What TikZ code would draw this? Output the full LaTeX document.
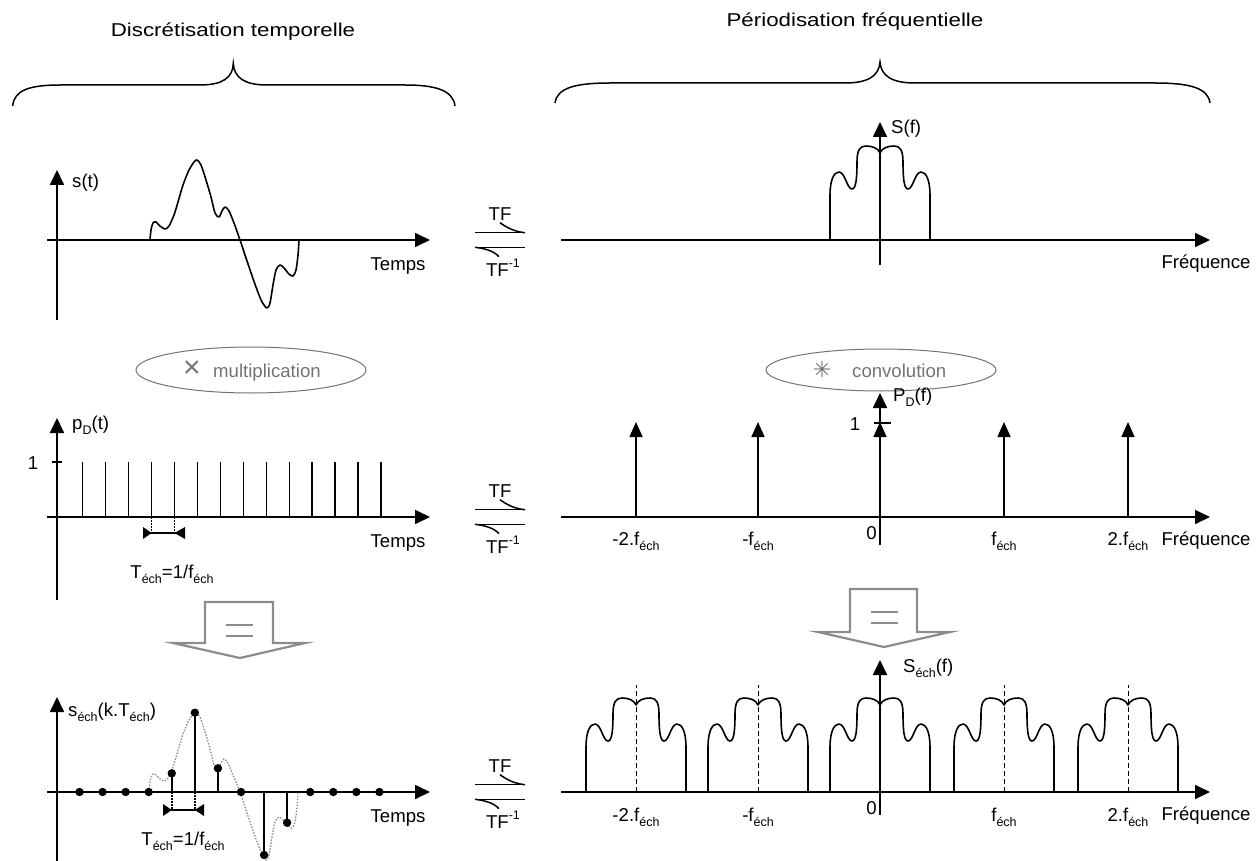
\documentclass[tikz,border=0pt]{standalone}
\usepackage{fontspec}
\setmainfont{Liberation Sans}
\newfontfamily\widefont[FakeStretch=1.2]{Liberation Sans}
\newfontfamily\symfont{DejaVu Sans}
\usetikzlibrary{arrows.meta}
\newcommand\sbs[1]{\raisebox{-0.28em}{\fontsize{12.5}{12.5}\selectfont #1}}
\newcommand\sps[1]{\raisebox{0.45em}{\fontsize{12.5}{12.5}\selectfont #1}}
\tikzset{
  ax/.style={line width=1.8pt,-{Triangle[length=15pt,width=14pt]}},
  axp/.style={line width=1.8pt},
  dirac/.style={line width=1.6pt,-{Triangle[length=15pt,width=13pt]}},
  stemline/.style={line width=1.5pt},
  sig/.style={line width=1.6pt,line join=round},
  lbl/.style={font=\fontsize{18.6}{20}\selectfont,inner sep=0pt},
  ttl/.style={font=\widefont\fontsize{18.6}{20}\selectfont,inner sep=0pt},
  graytxt/.style={font=\fontsize{18.6}{20}\selectfont,inner sep=0pt,text=black!55},
  oval/.style={draw=black!55,line width=1pt},
  eqarrow/.style={draw=black!45,line width=2.2pt,fill=white,line join=miter},
  eqbar/.style={draw=black!45,line width=2.6pt},
  tfline/.style={line width=1.5pt},
  dimdot/.style={line width=1.5pt,dash pattern=on 1.5pt off 1.5pt},
  repl/.style={line width=1pt,dash pattern=on 5pt off 3pt},
  spec/.pic={
    \draw[sig] (-50,0) -- (-50,-45) .. controls (-50,-60) and (-46,-68) .. (-41,-68)
      .. controls (-35,-68) and (-33,-51) .. (-28,-51)
      .. controls (-24,-51) and (-23,-62) .. (-23,-78)
      .. controls (-23,-90) and (-20,-94) .. (-14,-94)
      .. controls (-8,-94) and (-2,-92) .. (0,-87)
      .. controls (2,-92) and (8,-94) .. (14,-94)
      .. controls (20,-94) and (23,-90) .. (23,-78)
      .. controls (23,-62) and (24,-51) .. (28,-51)
      .. controls (33,-51) and (35,-68) .. (41,-68)
      .. controls (46,-68) and (50,-60) .. (50,-45) -- (50,0);
  },
  tfpair/.pic={
    \draw[tfline] (-25,-7.3) -- (25,-7.3);
    \draw[tfline] (0,-17.3) .. controls (10,-10) and (18,-8) .. (25,-7.3);
    \draw[tfline] (-25,7.3) -- (25,7.3);
    \draw[tfline] (-25,7.3) .. controls (-15,8.5) and (-6,11) .. (-1,16.7);
    \node[lbl,anchor=base] (-tf) at (0,-20) {TF};
    \node[lbl,anchor=base] (-tfi) at (3,36) {TF\sps{-1}};
  }
}
\begin{document}
\begin{tikzpicture}[x=1pt,y=-1pt]
\useasboundingbox (0,0) rectangle (1260,861);
% ---------- titles and braces
\node[ttl,anchor=base] (ttlL) at (233,37) {Discrétisation temporelle};
\node[ttl,anchor=base] (ttlR) at (855,27) {Périodisation fréquentielle};
\draw[line width=1.5pt] (12.7,106) .. controls (14,90) and (30,85) .. (60,85) -- (200,85)
  .. controls (222,85) and (233,78) .. (233.3,63.3)
  .. controls (234,78) and (245,85) .. (267,85) -- (405,85)
  .. controls (435,85) and (453,90) .. (455,106);
\draw[line width=1.5pt] (555,103) .. controls (557,88) and (575,83) .. (610,83) -- (845,83)
  .. controls (868,83) and (879,76) .. (880,62)
  .. controls (881,76) and (892,83) .. (915,83) -- (1155,83)
  .. controls (1190,83) and (1208,88) .. (1210,103);
% ---------- s(t)
\draw[axp] (57,320) -- (57,185);
\draw[ax] (57,200) -- (57,170);
\draw[ax] (47,240) -- (430,240);
\node[lbl,anchor=base west] (stlab) at (72,187) {s(t)};
\node[lbl,anchor=base] (temps1) at (398,270) {Temps};
\draw[sig] plot[smooth,tension=0.5] coordinates {(150,240) (151,230) (153,223) (156,222) (160,226) (165,229) (169,226) (174,215) (178,202) (183,185) (189,170) (194,162) (197,160) (201,165) (206,180) (211,197) (215,213) (219,217) (222,211) (225,207) (229,211) (234,223) (240,240) (248,264) (256,287) (262,302) (267,308) (270,303) (273,285) (276,270) (280,265) (284,268) (289,274) (293,276) (296,270) (298,255) (299,240)};
% ---------- TF pairs
\pic (tfA) at (500,240) {tfpair};
\pic (tfB) at (500,517) {tfpair};
\pic (tfC) at (500,792) {tfpair};
% ---------- S(f)
\draw[ax] (561,240) -- (1210,240);
\draw[ax] (880,265) -- (880,122);
\node[lbl,anchor=base west] (sflab) at (891,134) {S(f)};
\node[lbl,anchor=base] (freq1) at (1206,268) {Fréquence};
\pic at (880,240) {spec};
% ---------- operation ovals
\draw[oval] (251,370) ellipse [x radius=115,y radius=23];
\node[graytxt,font=\fontsize{30}{30}\selectfont] (times) at (192,369) {×};
\node[graytxt,anchor=base west] (mult) at (213,377) {multiplication};
\draw[oval] (881,370) ellipse [x radius=115,y radius=21];
\node[graytxt,font=\symfont\fontsize{22}{22}\selectfont] (star) at (822,369) {✳};
\node[graytxt,anchor=base west] (conv) at (852,377) {convolution};
% ---------- p_D(t)
\draw[axp] (57,600) -- (57,430);
\draw[ax] (57,440) -- (57,418);
\draw[ax] (47,517) -- (430,517);
\draw[stemline] (52,462) -- (62,462);
\node[lbl,anchor=base] (one1) at (33,469) {1};
\node[lbl,anchor=base west] (pdlab) at (72,429) {p\sbs{D}(t)};
\foreach \k in {0,...,13} {\draw[stemline] ({82.7+22.95*\k},517) -- ({82.7+22.95*\k},462);}
\draw[dimdot] (151.6,517) -- (151.6,533);
\draw[dimdot] (174.5,517) -- (174.5,533);
\draw[stemline] (143,533) -- (185,533);
\fill (143,527) -- (151.6,533) -- (143,539) -- cycle;
\fill (185,527) -- (174.5,533) -- (185,539) -- cycle;
\node[lbl,anchor=base] (tech1) at (172,578) {T\sbs{éch}=1/f\sbs{éch}};
\node[lbl,anchor=base] (temps2) at (398,547) {Temps};
% ---------- P_D(f)
\draw[ax] (561,517) -- (1210,517);
\draw[ax] (880,545) -- (880,393);
\foreach \c in {636,758,880,1004,1128} {\draw[dirac] (\c,517) -- (\c,422);}
\draw[stemline] (874,423) -- (891,423);
\node[lbl,anchor=base] (one2) at (855,430) {1};
\node[lbl,anchor=base west] (pflab) at (893,401) {P\sbs{D}(f)};
\node[lbl,anchor=base east] (zero1) at (877,539) {0};
\node[lbl,anchor=base] (m2f1) at (636,545) {-2.f\sbs{éch}};
\node[lbl,anchor=base] (m1f1) at (758,545) {-f\sbs{éch}};
\node[lbl,anchor=base] (p1f1) at (1004,545) {f\sbs{éch}};
\node[lbl,anchor=base] (p2f1) at (1128,545) {2.f\sbs{éch}};
\node[lbl,anchor=base] (freq2) at (1206,545) {Fréquence};
% ---------- = arrows
\draw[eqarrow] (205,643) -- (205,602) -- (273,602) -- (273,643) -- (305,643) -- (240,658) -- (173,643) -- cycle;
\draw[eqbar] (226,625) -- (253,625);
\draw[eqbar] (226,636) -- (253,636);
\draw[eqarrow] (850,632) -- (850,589) -- (917,589) -- (917,632) -- (950,632) -- (884,647) -- (818,632) -- cycle;
\draw[eqbar] (871,612) -- (898,612);
\draw[eqbar] (871,623) -- (898,623);
% ---------- s_ech
\draw[axp] (57,861) -- (57,710);
\draw[ax] (57,720) -- (57,697);
\draw[ax] (47,792) -- (430,792);
\node[lbl,anchor=base west] (sechlab) at (68,716) {s\sbs{éch}(k.T\sbs{éch})};
\node[lbl,anchor=base] (temps3) at (398,822) {Temps};
\draw[black!45,line width=1.3pt,dash pattern=on 1.5pt off 1.5pt] plot[smooth,tension=0.5] coordinates {(149,792) (150,782) (152,775) (155,774) (159,778) (164,781) (168,778) (173,767) (177,754) (182,737) (188,722) (193,714) (196,712) (200,717) (205,732) (210,749) (214,765) (218,769) (221,763) (224,759) (228,763) (233,775) (240,792) (248,816) (256,839) (262,854) (266,860) (269,855) (272,837) (275,822) (279,817) (283,820) (288,826) (292,828) (295,822) (297,807) (298,792)};
\foreach \k/\v in {4/773.3,5/712.7,6/768.3,8/855,9/822.7} {\draw[stemline] ({79.5+23.07*\k},792) -- ({79.5+23.07*\k},\v);}
\foreach \k/\v in {0/792,1/792,2/792,3/792,4/773.3,5/712.7,6/768.3,7/792,8/855,9/822.7,10/792,11/792,12/792,13/792} {\fill ({79.5+23.07*\k},\v) circle (4.2pt);}
\draw[dimdot] (171.8,792) -- (171.8,810);
\draw[dimdot] (194.9,792) -- (194.9,810);
\draw[stemline] (163,810) -- (204,810);
\fill (163,804) -- (171.8,810) -- (163,816) -- cycle;
\fill (204,804) -- (194.9,810) -- (204,816) -- cycle;
\node[lbl,anchor=base] (tech2) at (183,845) {T\sbs{éch}=1/f\sbs{éch}};
% ---------- S_ech(f)
\draw[ax] (561,792) -- (1210,792);
\draw[ax] (880,815) -- (880,660);
\node[lbl,anchor=base west] (sechf) at (903,672) {S\sbs{éch}(f)};
\foreach \c in {636,758,880,1004,1128} {\pic at (\c,792) {spec};}
\foreach \c in {636,758,1004,1128} {\draw[repl] (\c,792) -- (\c,685);}
\node[lbl,anchor=base east] (zero2) at (877,814) {0};
\node[lbl,anchor=base] (m2f2) at (636,821) {-2.f\sbs{éch}};
\node[lbl,anchor=base] (m1f2) at (758,821) {-f\sbs{éch}};
\node[lbl,anchor=base] (p1f2) at (1004,821) {f\sbs{éch}};
\node[lbl,anchor=base] (p2f2) at (1128,821) {2.f\sbs{éch}};
\node[lbl,anchor=base] (freq3) at (1206,820) {Fréquence};
\end{tikzpicture}
\end{document}
